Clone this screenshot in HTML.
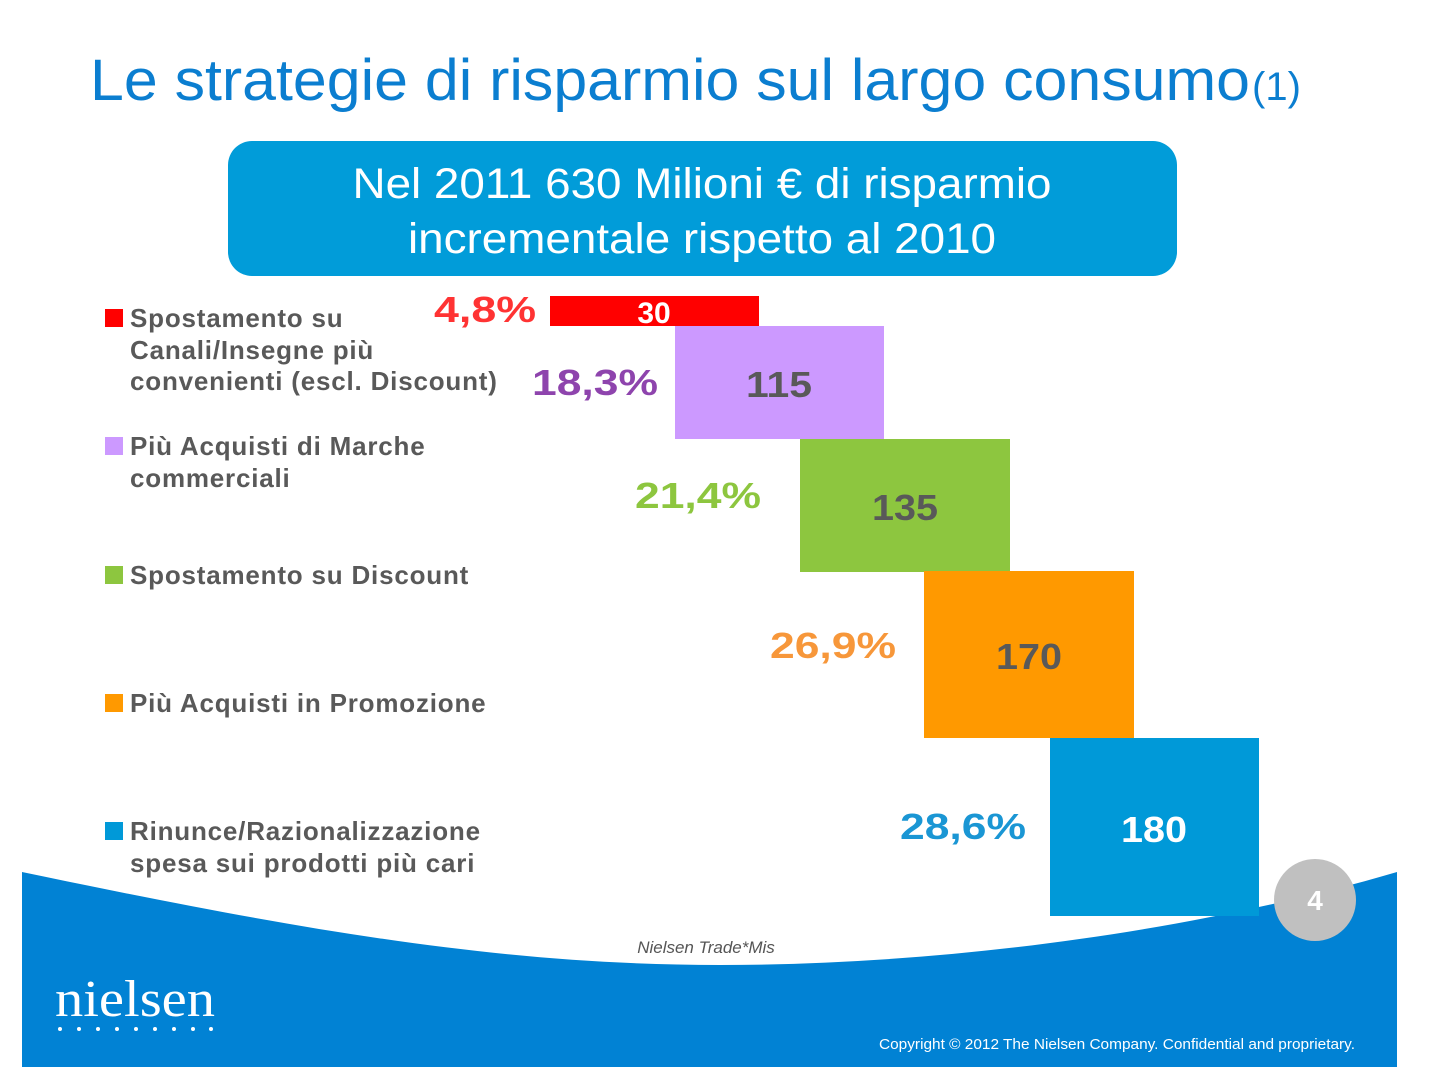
<!DOCTYPE html>
<html><head><meta charset="utf-8"><style>
body{margin:0;width:1432px;height:1088px;background:#fff;overflow:hidden}
svg{display:block}
</style></head><body>
<svg width="1432" height="1088" xmlns="http://www.w3.org/2000/svg" font-family="Liberation Sans, sans-serif">
<path d="M22,872 C300,930 500,965 720,965 C950,965 1200,930 1397,872 L1397,1067 L22,1067 Z" fill="#0182d4"/>
<text x="90" y="100" font-size="58" fill="#0b7ed0" textLength="1160" lengthAdjust="spacingAndGlyphs">Le strategie di risparmio sul largo consumo</text>
<text x="1252" y="100" font-size="40" fill="#0b7ed0">(1)</text>
<rect x="228" y="141" width="949" height="135" rx="24" fill="#019cd9"/>
<text x="702" y="198" font-size="43" fill="#fff" text-anchor="middle" textLength="699" lengthAdjust="spacingAndGlyphs">Nel 2011 630 Milioni € di risparmio</text>
<text x="702" y="253" font-size="43" fill="#fff" text-anchor="middle" textLength="588" lengthAdjust="spacingAndGlyphs">incrementale rispetto al 2010</text>
<g font-size="26" font-weight="bold" fill="#595959" letter-spacing="0.8">
<rect x="105" y="309" width="18" height="18" fill="#f00"/>
<text x="130" y="327">Spostamento su</text>
<text x="130" y="359">Canali/Insegne più</text>
<text x="130" y="390">convenienti (escl. Discount)</text>
<rect x="105" y="437" width="18" height="18" fill="#cc99ff"/>
<text x="130" y="455">Più Acquisti di Marche</text>
<text x="130" y="487">commerciali</text>
<rect x="105" y="566" width="18" height="18" fill="#8dc63f"/>
<text x="130" y="584">Spostamento su Discount</text>
<rect x="105" y="694" width="18" height="18" fill="#f90"/>
<text x="130" y="712">Più Acquisti in Promozione</text>
<rect x="105" y="822" width="18" height="18" fill="#0099d8"/>
<text x="130" y="840">Rinunce/Razionalizzazione</text>
<text x="130" y="872">spesa sui prodotti più cari</text>
</g>
<rect x="550" y="296" width="209" height="30" fill="#f00"/>
<rect x="675" y="326" width="209" height="113" fill="#cc99ff"/>
<rect x="800" y="439" width="210" height="133" fill="#8dc63f"/>
<rect x="924" y="571" width="210" height="167" fill="#f90"/>
<rect x="1050" y="738" width="209" height="178" fill="#0099d8"/>
<g font-weight="bold" font-size="36">
<text x="654" y="323" fill="#fff" text-anchor="middle" font-size="30">30</text>
<text x="779" y="397" fill="#595959" text-anchor="middle" textLength="66" lengthAdjust="spacingAndGlyphs">115</text>
<text x="905" y="520" fill="#595959" text-anchor="middle" textLength="66" lengthAdjust="spacingAndGlyphs">135</text>
<text x="1029" y="669" fill="#595959" text-anchor="middle" textLength="66" lengthAdjust="spacingAndGlyphs">170</text>
<text x="1154" y="842" fill="#fff" text-anchor="middle" textLength="66" lengthAdjust="spacingAndGlyphs">180</text>
<text x="434" y="322" fill="#f33" textLength="102" lengthAdjust="spacingAndGlyphs">4,8%</text>
<text x="532" y="395" fill="#8e44ad" textLength="126" lengthAdjust="spacingAndGlyphs">18,3%</text>
<text x="635" y="508" fill="#8dc63f" textLength="126" lengthAdjust="spacingAndGlyphs">21,4%</text>
<text x="770" y="658" fill="#f7973a" textLength="126" lengthAdjust="spacingAndGlyphs">26,9%</text>
<text x="900" y="839" fill="#1a96d4" textLength="126" lengthAdjust="spacingAndGlyphs">28,6%</text>
</g>
<circle cx="1315" cy="900" r="41" fill="#c0c0c0"/>
<text x="1315" y="910" font-size="28" font-weight="bold" fill="#fff" text-anchor="middle">4</text>
<text x="706" y="953" font-size="17" font-style="italic" fill="#555" text-anchor="middle">Nielsen Trade*Mis</text>
<text x="55" y="1016" font-size="52" fill="#fff" font-family="Liberation Serif, serif" textLength="160" lengthAdjust="spacingAndGlyphs">nielsen</text>
<g fill="#fff"><circle cx="60" cy="1029" r="2"/><circle cx="79" cy="1029" r="2"/><circle cx="98" cy="1029" r="2"/><circle cx="117" cy="1029" r="2"/><circle cx="136" cy="1029" r="2"/><circle cx="155" cy="1029" r="2"/><circle cx="174" cy="1029" r="2"/><circle cx="193" cy="1029" r="2"/><circle cx="211" cy="1029" r="2"/></g>
<text x="1355" y="1049" font-size="15" fill="#fff" text-anchor="end" textLength="476" lengthAdjust="spacingAndGlyphs">Copyright © 2012 The Nielsen Company. Confidential and proprietary.</text>
</svg>
</body></html>
